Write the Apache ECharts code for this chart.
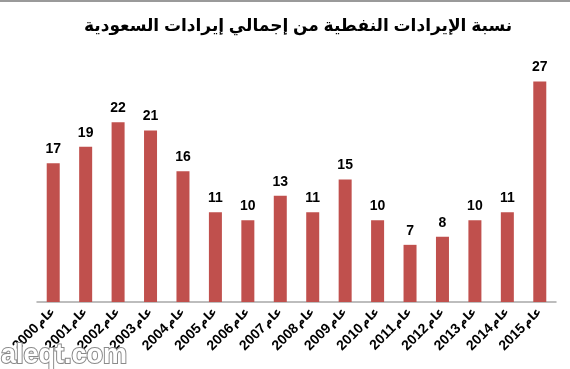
<!DOCTYPE html>
<html><head><meta charset="utf-8">
<script src="https://cdn.jsdelivr.net/npm/echarts@6/dist/echarts.min.js"></script>
<style>html,body{margin:0;padding:0;background:#fff}#c{width:570px;height:369px}</style>
</head><body><div id="c"></div>
<script>
var titleText = 'نسبة الإيرادات النفطية من إجمالي إيرادات السعودية';
var years = ['2000','2001','2002','2003','2004','2005','2006','2007','2008','2009','2010','2011','2012','2013','2014','2015'];
var yearWord = 'عام';
var categories = years.map(function(y){ return yearWord + ' ' + y; });
var shares = [17,19,22,21,16,11,10,13,11,15,10,7,8,10,11,27];
var watermark = 'aleqt.com';

var chart = echarts.init(document.getElementById('c'), null, {renderer:'canvas'});
chart.setOption({
  backgroundColor:'#fff',
  animation:false,
  title:{
    text:titleText, left:79, top:13,
    textStyle:{fontFamily:'"Liberation Sans", "DejaVu Sans", sans-serif', fontWeight:'bold', fontSize:17, color:'#000'}
  },
  grid:{left:37, right:14, top:57, bottom:67},
  xAxis:{
    type:'category', data:categories,
    axisLine:{lineStyle:{color:'#a8a8a8', width:1.5}},
    axisTick:{show:false},
    axisLabel:{rotate:45, interval:0, margin:8, color:'#000',
      formatter:function(v){
        var parts = v.split(' ');
        return '{n|' + parts[1] + '}{s| }{w|' + parts[0] + '}';
      },
      rich:{
        n:{fontFamily:'"Liberation Sans", sans-serif', fontWeight:'bold', fontSize:14, color:'#000'},
        s:{fontFamily:'"Liberation Sans", sans-serif', fontSize:5},
        w:{fontFamily:'"DejaVu Sans", sans-serif', fontWeight:'bold', fontSize:12, color:'#000'}
      }
    }
  },
  yAxis:{type:'value', min:0, max:30, show:false, splitLine:{show:false}},
  series:[{
    type:'bar', data:shares, barWidth:13,
    itemStyle:{color:'#c0504d'},
    label:{show:true, position:'top', distance:7, color:'#000',
      fontFamily:'"Liberation Sans", sans-serif', fontWeight:'bold', fontSize:14}
  }],
  graphic:[
    {type:'rect', shape:{x:0,y:0,width:570,height:2}, style:{fill:'#9a9a9a'}, z:100},
    {type:'text', left:0, top:341, z:100,
      style:{text:watermark, fontFamily:'"Liberation Sans", sans-serif', fontWeight:'bold', fontSize:27,
        fill:'#fff', stroke:'#8a8a8a', lineWidth:2}}
  ]
});
</script></body></html>
